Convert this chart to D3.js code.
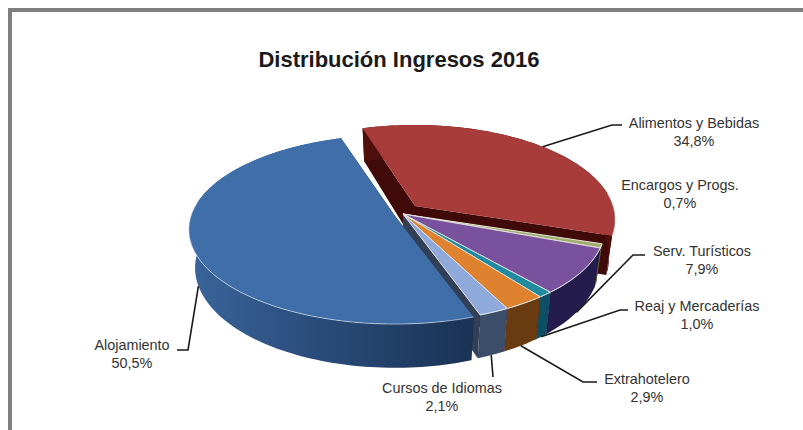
<!DOCTYPE html>
<html>
<head>
<meta charset="utf-8">
<style>
html,body{margin:0;padding:0;background:#fff}
svg{display:block}
text{font-family:"Liberation Sans",Arial,sans-serif}
</style>
<script src="https://cdn.jsdelivr.net/npm/d3@7/dist/d3.min.js"></script>
</head>
<body>
<svg id="chart" width="803" height="430"></svg>
<script>
// Share of 2016 income by business line, clockwise from the top of the pie
const categories = ["Alimentos y Bebidas","Encargos y Progs.","Serv. Turísticos","Reaj y Mercaderías","Extrahotelero","Cursos de Idiomas","Alojamiento"];
const shares = [34.8,0.7,7.9,1.0,2.9,2.1,50.5];
const shareLabels = ["34,8%","0,7%","7,9%","1,0%","2,9%","2,1%","50,5%"];
const chartTitle = "Distribución Ingresos 2016";

// Slice appearance
const topColors  = ["#a83c3a","#a3ad6e","#7a519c","#1f8aa0","#df8230","#8ea9da","#3f6ea8"];
const wallColors = ["#4e0f0d","#5c6333","#241c4c","#0f4f66","#6a3a10","#3b4d69","#2a4d7c"];
const cutColors  = ["#3f0a08","#4a5028","#1b1538","#0b3a4c","#4f2b0a","#333f56","#16263f"];

// Pie centre and radius for each slice (red and blue are pulled out)
const apexX  = [415,403,403,403,403,403,395];
const apexY  = [206,214,214,214,214,214,216];
const radius = [198,200,200,200,200,200,204];

// Label centres, first line baseline, leader elbow and end
const labelX = [694,680,702,697,647,442,132];
const labelY = [128,190,256,311,384,393,350];
const elbowX = [612,null,633,620,583,493,188];
const elbowY = [125,null,255,310,382,377,350];
const tailX  = [622,null,645,628,597,493,177];
const leaderOnBase = [false,false,true,true,true,true,true];

const startDegrees = -17.5;
const depth = 37.5, k = 0.143, a = 92.6, baseShrink = 0.97;

const svg = d3.select("#chart");
const defs = svg.append("defs");

// Gradient giving the large front wall its shading from left to right
const wallGrad = defs.append("linearGradient").attr("id","frontWall")
  .attr("gradientUnits","userSpaceOnUse").attr("x1",190).attr("x2",470).attr("y1",0).attr("y2",0);
wallGrad.append("stop").attr("offset",0).attr("stop-color","#3a659a");
wallGrad.append("stop").attr("offset",0.45).attr("stop-color","#2a4c7b");
wallGrad.append("stop").attr("offset",1).attr("stop-color","#1b3355");

// Frame around the chart area
svg.append("path").attr("d","M10,430V10H803").attr("fill","none").attr("stroke","#7f7f7f").attr("stroke-width",4);

svg.append("text").attr("x",399).attr("y",67).attr("text-anchor","middle")
  .attr("font-size",22).attr("font-weight","bold").attr("fill","#1a1a1a").text(chartTitle);

const pie = d3.pie().sort(null)
  .startAngle(startDegrees*Math.PI/180)
  .endAngle((startDegrees+360)*Math.PI/180);
const arcs = pie(shares);

// Perspective projection of a disc point; `base` drops it to the underside
function project(i, r, angle, base){
  const X = r*Math.sin(angle), Y = -r*Math.cos(angle);
  const w = 1-k*Y;
  const sx = base ? baseShrink : 1;
  return [apexX[i] + radius[i]*X/w*sx,
          apexY[i] + (a*Y + (base?depth:0))/w];
}
const line = d3.line();
const sweep = (d,steps) => d3.range(steps+1).map(s => d.startAngle+(d.endAngle-d.startAngle)*s/steps);

categories.forEach((name,i)=>{
  const d = arcs[i];
  const n = Math.max(4,Math.ceil((d.endAngle-d.startAngle)*40));
  const angles = sweep(d,n);
  const topRim = angles.map(t=>project(i,1,t,false));
  const baseRim = angles.map(t=>project(i,1,t,true));
  const g = svg.append("g");
  const cApexT = project(i,0,0,false), cApexB = project(i,0,0,true);

  // Cut faces
  [0,n].forEach(e=>{
    g.append("path").attr("fill",cutColors[i])
      .attr("d",line([cApexT,topRim[e],baseRim[e],cApexB])+"Z");
  });
  // Outer wall
  g.append("path").attr("fill", i===6 ? "url(#frontWall)" : wallColors[i])
    .attr("d",line(topRim.concat(baseRim.slice().reverse()))+"Z");
  // Top face
  g.append("path").attr("fill",topColors[i])
    .attr("stroke", i===0||i===6 ? "none" : "#f2f2ee").attr("stroke-width",0.9)
    .attr("d",line([cApexT].concat(topRim))+"Z");
  // Highlight where the top meets the wall
  const front = topRim.filter((p,j)=>Math.cos(angles[j])<0.15);
  if(front.length>1){
    g.append("path").attr("fill","none").attr("stroke","#dfe9f6")
      .attr("stroke-opacity", i===6 ? 0.7 : 0.5).attr("stroke-width",0.9).attr("d",line(front));
  }
});

// Labels and leaders
categories.forEach((name,i)=>{
  const d = arcs[i];
  if(elbowX[i]!==null){
    const mid = (d.startAngle+d.endAngle)/2;
    const from = project(i,1,mid,leaderOnBase[i]);
    svg.append("path").attr("fill","none").attr("stroke","#1a1a1a").attr("stroke-width",1.6)
      .attr("d",line([from,[elbowX[i],elbowY[i]],[tailX[i],elbowY[i]]]));
  }
  const t = svg.append("text").attr("text-anchor","middle").attr("font-size",14.4).attr("fill","#333");
  t.append("tspan").attr("x",labelX[i]).attr("y",labelY[i]).text(name);
  t.append("tspan").attr("x",labelX[i]).attr("y",labelY[i]+17.5).text(shareLabels[i]);
});
</script>
</body>
</html>
